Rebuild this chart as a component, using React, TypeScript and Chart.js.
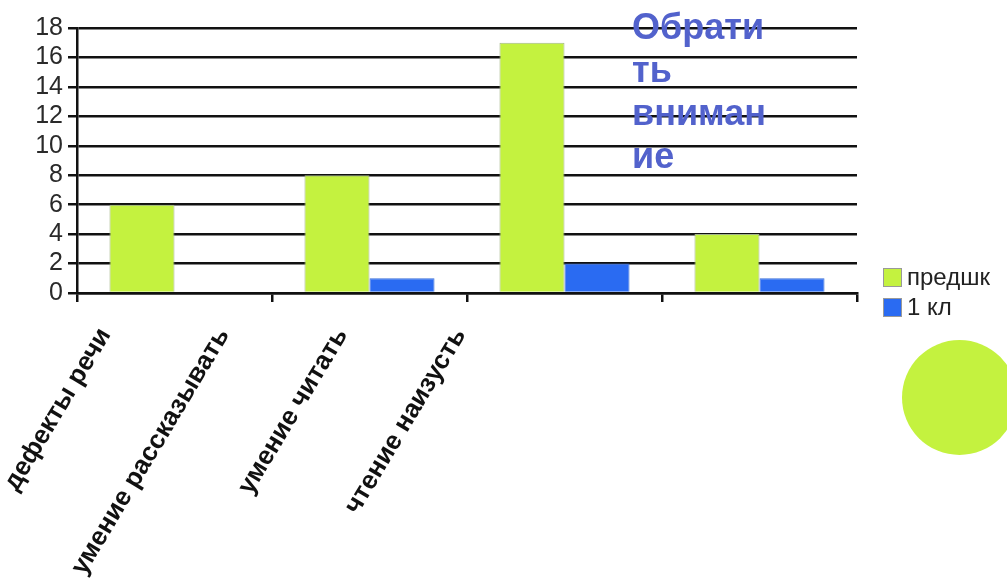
import React, { useEffect, useRef } from "react";
import { Chart, registerables } from "chart.js";

Chart.register(...registerables);

const categories = ["дефекты речи", "умение рассказывать", "умение читать", "чтение наизусть"];
const predshkValues = [6, 8, 17, 4];
const kl1Values: (number | null)[] = [null, 1, 2, 1];
const seriesNames = ["предшк", "1 кл"];
const yTicks = [0, 2, 4, 6, 8, 10, 12, 14, 16, 18];
const noteLines = ["Обрати", "ть", "вниман", "ие"];

const GREEN = "#c4f23f";
const BLUE = "#2a6bf2";
const FONT = "'Liberation Sans', Arial, sans-serif";

const xLabelPlugin = {
  id: "xLabels",
  afterDraw(chart: any) {
    const xs = chart.scales.x;
    const ctx = chart.ctx;
    const step = xs.width * 0.1517;
    const start = xs.left + 17;
    ctx.save();
    ctx.font = `bold 26px ${FONT}`;
    ctx.fillStyle = "#111";
    ctx.textAlign = "right";
    ctx.textBaseline = "top";
    categories.forEach((c, i) => {
      ctx.save();
      ctx.translate(start + step * i, xs.top + 31);
      ctx.rotate((-59 * Math.PI) / 180);
      ctx.fillText(c, 0, 0);
      ctx.restore();
    });
    ctx.restore();
  },
};

export default function App() {
  const ref = useRef<HTMLCanvasElement>(null);
  useEffect(() => {
    if (!ref.current) return;
    const chart = new Chart(ref.current, {
      type: "bar",
      data: {
        labels: categories,
        datasets: [
          {
            label: seriesNames[0],
            data: predshkValues,
            backgroundColor: GREEN,
            borderColor: "#a3b58a",
            borderWidth: 1,
            categoryPercentage: 0.667,
            barPercentage: 1,
          },
          {
            label: seriesNames[1],
            data: kl1Values,
            backgroundColor: BLUE,
            borderColor: "#3a6fd8",
            borderWidth: 1,
            categoryPercentage: 0.667,
            barPercentage: 1,
          },
        ],
      },
      options: {
        responsive: false,
        animation: false,
        layout: { padding: { left: 0, top: 28, right: 150, bottom: 0 } },
        plugins: { legend: { display: false }, tooltip: { enabled: false } },
        scales: {
          x: {
            grid: {
              offset: true,
              drawOnChartArea: false,
              drawTicks: true,
              tickLength: 9,
              color: "#111",
              lineWidth: 2.5,
            },
            border: { display: true, color: "#111", width: 2.5 },
            ticks: { display: false },
            afterFit: (s: any) => {
              s.height = 287;
            },
          },
          y: {
            min: 0,
            max: 18,
            afterBuildTicks: (s: any) => {
              s.ticks = yTicks.map((v) => ({ value: v }));
            },
            grid: {
              color: "#111",
              lineWidth: 2.5,
              tickLength: 9,
              drawTicks: true,
            },
            border: { display: true, color: "#111", width: 2.5 },
            ticks: {
              autoSkip: false,
              stepSize: 2,
              font: { family: FONT, size: 25 },
              color: "#2a2a2a",
              padding: 5,
            },
            afterFit: (s: any) => {
              s.width = 77;
            },
          },
        },
      },
      plugins: [xLabelPlugin],
    });
    return () => chart.destroy();
  }, []);

  return (
    <div style={{ position: "absolute", left: 0, top: 0, width: 1007, height: 580, overflow: "hidden", background: "#fff" }}>
      <canvas ref={ref} width={1007} height={580} style={{ position: "absolute", left: 0, top: 0 }} />
      <div
        style={{
          position: "absolute",
          left: 632,
          top: 5,
          fontFamily: FONT,
          fontWeight: "bold",
          fontSize: 36,
          lineHeight: "43px",
          color: "#5262cc",
        }}
      >
        {noteLines.map((l, i) => (
          <div key={i}>{l}</div>
        ))}
      </div>
      <div style={{ position: "absolute", left: 883, top: 262, fontFamily: FONT, fontSize: 24, color: "#222" }}>
        {seriesNames.map((n, i) => (
          <div key={i} style={{ display: "flex", alignItems: "center", height: 30 }}>
            <span
              style={{
                display: "inline-block",
                width: 19,
                height: 19,
                boxSizing: "border-box",
                background: i === 0 ? GREEN : BLUE,
                border: "1px solid #999",
                marginRight: 5,
              }}
            />
            <span>{n}</span>
          </div>
        ))}
      </div>
      <div
        style={{
          position: "absolute",
          left: 902,
          top: 340,
          width: 115,
          height: 115,
          borderRadius: "50%",
          background: GREEN,
        }}
      />
    </div>
  );
}
